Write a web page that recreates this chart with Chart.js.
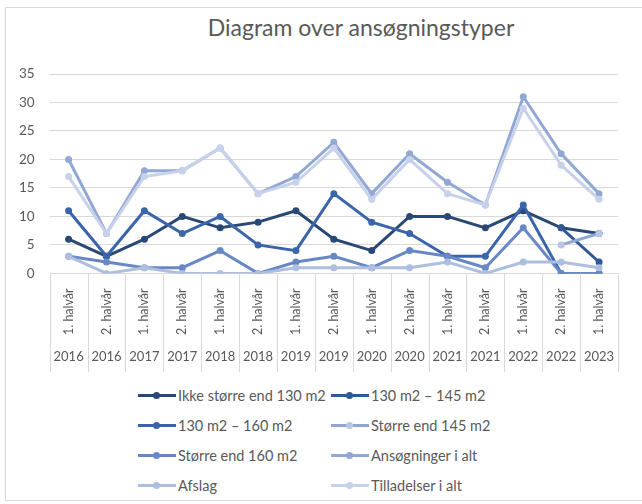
<!DOCTYPE html>
<html>
<head>
<meta charset="utf-8">
<script src="https://cdn.jsdelivr.net/npm/chart.js@4.4.1/dist/chart.umd.min.js"></script>
<style>
  html, body { margin: 0; padding: 0; background: #fff; }
  body { width: 642px; height: 504px; overflow: hidden; position: relative; font-family: Lato, "Open Sans", sans-serif; color: #595959; }
  #frame { position: absolute; left: 5px; top: 7px; width: 720px; height: 494px; border: 1px solid #d9d9d9; box-sizing: border-box; }
  #title { position: absolute; left: 0; top: 13px; width: 722px; text-align: center; font-size: 23px; }
  #wrap { position: absolute; left: 0; top: 0; width: 642px; height: 380px; }
  #legend { position: absolute; left: 0; top: 383px; width: 642px; font-size: 14.5px; }
  .item { position: absolute; height: 24px; display: flex; align-items: center; white-space: nowrap; }
  .sw { position: relative; width: 38px; height: 24px; margin-right: 2px; }
  .sw .ln { position: absolute; left: 0; right: 0; top: 10.5px; height: 3px; }
  .sw .pt { position: absolute; left: 15px; top: 8.5px; width: 7px; height: 7px; border-radius: 50%; }
</style>
</head>
<body>
<div id="frame"></div>
<div id="title">Diagram over ansøgningstyper</div>
<div id="wrap"><canvas id="c" width="642" height="380"></canvas></div>
<div id="legend"></div>
<script>
  const halves = ['1. halvår','2. halvår','1. halvår','2. halvår','1. halvår','2. halvår','1. halvår','2. halvår',
                  '1. halvår','2. halvår','1. halvår','2. halvår','1. halvår','2. halvår','1. halvår'];
  const years = ['2016','2016','2017','2017','2018','2018','2019','2019','2020','2020','2021','2021','2022','2022','2023'];

  const ikke130    = [6, 3, 6, 10, 8, 9, 11, 6, 4, 10, 10, 8, 11, 8, 7];
  const m130_145   = [null, null, null, null, null, null, null, null, null, null, null, null, null, 8, 2];
  const m130_160   = [11, 3, 11, 7, 10, 5, 4, 14, 9, 7, 3, 3, 12, 0, 0];
  const over145    = [null, null, null, null, null, null, null, null, null, null, null, null, null, 5, 7];
  const over160    = [3, 2, 1, 1, 4, 0, 2, 3, 1, 4, 3, 1, 8, 0, 0];
  const ansogning  = [20, 7, 18, 18, 22, 14, 17, 23, 14, 21, 16, 12, 31, 21, 14];
  const afslag     = [3, 0, 1, 0, 0, 0, 1, 1, 1, 1, 2, 0, 2, 2, 1];
  const tilladelse = [17, 7, 17, 18, 22, 14, 16, 22, 13, 20, 14, 12, 29, 19, 13];

  const series = [
    { label: 'Ikke større end 130 m2', data: ikke130,    line: '#2a4876', dot: '#2a4876' },
    { label: '130 m2 – 145 m2',        data: m130_145,   line: '#315896', dot: '#315896' },
    { label: '130 m2 – 160 m2',        data: m130_160,   line: '#3a65aa', dot: '#3a65aa' },
    { label: 'Større end 145 m2',      data: over145,    line: '#8fa6d4', dot: '#b8c6e3' },
    { label: 'Større end 160 m2',      data: over160,    line: '#6888c5', dot: '#6888c5' },
    { label: 'Ansøgninger i alt',      data: ansogning,  line: '#92a8d4', dot: '#92a8d4' },
    { label: 'Afslag',                 data: afslag,     line: '#adbedf', dot: '#adbedf' },
    { label: 'Tilladelser i alt',      data: tilladelse, line: '#c7d1e9', dot: '#c7d1e9' }
  ];

  // vertical separators of the two-level category axis
  const separators = {
    id: 'separators',
    afterDraw(chart){
      const x = chart.scales.x, x2 = chart.scales.x2;
      const half = (x.getPixelForValue(1) - x.getPixelForValue(0)) / 2;
      const ctx = chart.ctx;
      ctx.save();
      ctx.strokeStyle = '#d9d9d9';
      ctx.lineWidth = 1;
      for (let i = 0; i <= halves.length; i++) {
        const px = Math.round(x.getPixelForValue(i) - half) + 0.5;
        ctx.beginPath();
        ctx.moveTo(px, chart.chartArea.bottom);
        ctx.lineTo(px, x2.bottom + 6);
        ctx.stroke();
      }
      ctx.restore();
    }
  };

  const chart = new Chart(document.getElementById('c'), {
    type: 'line',
    data: {
      labels: halves,
      datasets: series.map((s, i) => ({
        label: s.label,
        data: s.data,
        borderColor: s.line,
        backgroundColor: s.dot,
        pointBackgroundColor: s.dot,
        pointBorderColor: s.dot,
        borderWidth: 3,
        pointRadius: 3.5,
        pointBorderWidth: 0,
        tension: 0,
        spanGaps: false,
        order: series.length - i
      }))
    },
    options: {
      responsive: false,
      animation: false,
      layout: { padding: { left: 4, right: 24, top: 74, bottom: 14 } },
      plugins: { legend: { display: false }, title: { display: false }, tooltip: { enabled: false } },
      scales: {
        y: {
          min: 0, max: 35,
          ticks: { stepSize: 5, color: '#595959', font: { family: 'Lato', size: 13.5 }, padding: 15 },
          grid: { color: '#d9d9d9', drawTicks: false },
          border: { display: false }
        },
        x: {
          offset: true,
          afterFit: s => { s.height = 67; },
          ticks: { minRotation: 90, maxRotation: 90, autoSkip: false, color: '#595959', font: { family: 'Lato', size: 12.5 }, padding: 7 },
          grid: { display: false },
          border: { display: false }
        },
        x2: {
          type: 'category',
          labels: years,
          position: 'bottom',
          offset: true,
          ticks: { autoSkip: false, maxRotation: 0, color: '#595959', font: { family: 'Lato', size: 13 }, padding: 1 },
          grid: { display: false },
          border: { display: false }
        }
      }
    },
    plugins: [separators]
  });

  // legend in two columns, built from the datasets
  const pos = [[138, 0], [331, 0], [138, 1], [331, 1], [138, 2], [331, 2], [138, 3], [331, 3]];
  const legend = document.getElementById('legend');
  series.forEach((s, i) => {
    const it = document.createElement('div');
    it.className = 'item';
    it.style.left = pos[i][0] + 'px';
    it.style.top = (pos[i][1] * 30) + 'px';
    it.innerHTML = '<div class="sw"><div class="ln" style="background:' + s.line + '"></div>' +
      '<div class="pt" style="background:' + s.dot + '"></div></div><span>' + s.label + '</span>';
    legend.appendChild(it);
  });
</script>
</body>
</html>
